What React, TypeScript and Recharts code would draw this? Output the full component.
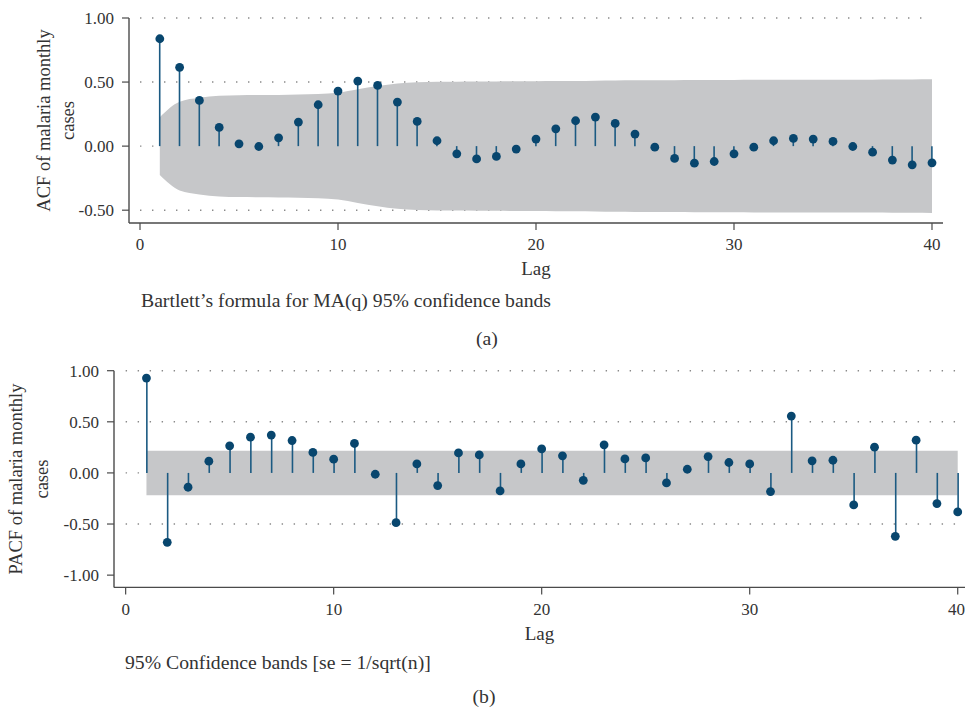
import {
  ComposedChart,
  Area,
  Bar,
  Scatter,
  XAxis,
  YAxis,
  ReferenceLine,
} from 'recharts';

const lags = [1, 2, 3, 4, 5, 6, 7, 8, 9, 10, 11, 12, 13, 14, 15, 16, 17, 18, 19, 20,
  21, 22, 23, 24, 25, 26, 27, 28, 29, 30, 31, 32, 33, 34, 35, 36, 37, 38, 39, 40];

const acfValues = [0.838, 0.615, 0.357, 0.146, 0.018, -0.003, 0.065, 0.188, 0.323, 0.43,
  0.508, 0.474, 0.344, 0.193, 0.042, -0.06, -0.1, -0.08, -0.023, 0.055,
  0.135, 0.198, 0.227, 0.177, 0.094, -0.008, -0.096, -0.133, -0.12, -0.06,
  -0.008, 0.042, 0.06, 0.055, 0.037, -0.003, -0.047, -0.109, -0.146, -0.13];

// Bartlett band half-width per lag
const acfBand = [0.226, 0.346, 0.377, 0.393, 0.398, 0.399, 0.4, 0.402, 0.406, 0.416,
  0.443, 0.469, 0.489, 0.498, 0.502, 0.503, 0.504, 0.505, 0.506, 0.507,
  0.508, 0.509, 0.511, 0.513, 0.514, 0.515, 0.515, 0.516, 0.517, 0.517,
  0.518, 0.518, 0.518, 0.519, 0.519, 0.519, 0.519, 0.52, 0.52, 0.521];

const pacfValues = [0.928, -0.679, -0.14, 0.115, 0.265, 0.35, 0.37, 0.317, 0.2, 0.134,
  0.288, -0.013, -0.487, 0.088, -0.124, 0.196, 0.176, -0.176, 0.088, 0.235,
  0.167, -0.072, 0.275, 0.137, 0.147, -0.098, 0.036, 0.16, 0.102, 0.088,
  -0.183, 0.556, 0.118, 0.124, -0.313, 0.252, -0.62, 0.32, -0.3, -0.382];

const pacfBand = 0.218;

const xTicks = [0, 10, 20, 30, 40];
const acfTicks = [-0.5, 0, 0.5, 1];
const pacfTicks = [-1, -0.5, 0, 0.5, 1];
const pacfGrid = [-0.5, 0, 0.5, 1];

const acfData = lags.map((lag, i) => ({ lag, value: acfValues[i], band: [-acfBand[i], acfBand[i]] }));
const pacfData = lags.map((lag, i) => ({ lag, value: pacfValues[i], band: [-pacfBand, pacfBand] }));

const SERIF = '"Liberation Serif", "Times New Roman", serif';
const TEXT = '#333';
const AXIS = '#4a4a4a';
const DOT = '#08466e';
const STEM = '#1b5a82';
const BAND = '#c6c7c9';

const tickStyle = { fontSize: 17, fill: TEXT, fontFamily: SERIF };

const renderDot = (p: any) => <circle cx={p.cx} cy={p.cy} r={4.4} fill={DOT} />;

const lagLabel = (dy: number) => (props: any) => {
  const vb = props.viewBox;
  return (
    <text x={vb.x + vb.width / 2} y={vb.y + dy} textAnchor="middle" fontFamily={SERIF} fontSize={19} fill={TEXT}>
      Lag
    </text>
  );
};

function CorrPanel({
  data,
  title,
  yDomain,
  yTicks,
  gridValues,
  xDomain,
  yAxisWidth,
  margin,
  height,
  titleX,
  lagDy,
  tickMargin,
}: any) {
  const [t1, t2] = titleX;
  return (
    <ComposedChart width={965} height={height} data={data} margin={margin}>
      <XAxis
        type="number"
        dataKey="lag"
        domain={xDomain}
        ticks={xTicks}
        tick={tickStyle}
        tickSize={7}
        tickMargin={tickMargin}
        height={50}
        axisLine={{ stroke: AXIS, strokeWidth: 1.4 }}
        tickLine={{ stroke: AXIS, strokeWidth: 1.2 }}
        label={{ content: lagLabel(lagDy) }}
      />
      <YAxis
        type="number"
        domain={yDomain}
        ticks={yTicks}
        tick={tickStyle}
        tickSize={7}
        tickMargin={8}
        width={yAxisWidth}
        tickFormatter={(v: number) => v.toFixed(2)}
        axisLine={{ stroke: AXIS, strokeWidth: 1.4 }}
        tickLine={{ stroke: AXIS, strokeWidth: 1.2 }}
        label={{
          content: (p: any) => {
            const vb = p.viewBox;
            const cy = vb.y + vb.height / 2;
            return (
              <g fontFamily={SERIF} fontSize={18.5} fill={TEXT}>
                <text x={t1} y={cy} textAnchor="middle" transform={`rotate(-90, ${t1}, ${cy})`}>
                  {title}
                </text>
                <text x={t2} y={cy} textAnchor="middle" transform={`rotate(-90, ${t2}, ${cy})`}>
                  cases
                </text>
              </g>
            );
          },
        }}
      />
      {gridValues.map((v: number) => (
        <ReferenceLine
          key={v}
          segment={[{ x: 0, y: v }, { x: 40, y: v }]}
          stroke="#8a8a8a"
          strokeWidth={1.4}
          strokeDasharray="1.4 10.6"
          zIndex={-50}
        />
      ))}
      <Area
        type="monotone"
        dataKey="band"
        fill={BAND}
        fillOpacity={1}
        stroke="none"
        isAnimationActive={false}
      />
      <Bar dataKey="value" barSize={1.6} fill={STEM} isAnimationActive={false} />
      <Scatter dataKey="value" shape={renderDot} isAnimationActive={false} />
    </ComposedChart>
  );
}

export default function App() {
  return (
    <div
      style={{
        position: 'absolute',
        left: 0,
        top: 0,
        width: 965,
        height: 716,
        background: '#fff',
        overflow: 'hidden',
        fontFamily: SERIF,
      }}
    >
      <div style={{ position: 'absolute', left: 0, top: 0 }}>
        <CorrPanel
          data={acfData}
          title="ACF of malaria monthly"
          yDomain={[-0.6, 1]}
          yTicks={acfTicks}
          gridValues={acfTicks}
          xDomain={[-0.556, 40.556]}
          yAxisWidth={129}
          margin={{ top: 18, right: 22, bottom: 17, left: 0 }}
          height={290}
          titleX={[49.5, 74]}
          lagDy={52}
          tickMargin={8}
        />
      </div>
      <div style={{ position: 'absolute', left: 0, top: 350 }}>
        <CorrPanel
          data={pacfData}
          title="PACF of malaria monthly"
          yDomain={[-1.12, 1]}
          yTicks={pacfTicks}
          gridValues={pacfGrid}
          xDomain={[-0.56, 40.35]}
          yAxisWidth={114}
          margin={{ top: 20.7, right: 0, bottom: 12.6, left: 0 }}
          height={300}
          titleX={[22, 47.7]}
          lagDy={53}
          tickMargin={9}
        />
      </div>
      <svg
        width={965}
        height={716}
        style={{ position: 'absolute', left: 0, top: 0, pointerEvents: 'none' }}
        fontFamily={SERIF}
        fill={TEXT}
      >
        <text x={141} y={306.5} fontSize={19.7}>
          Bartlett’s formula for MA(q) 95% confidence bands
        </text>
        <text x={487} y={345} fontSize={19.7} textAnchor="middle">
          (a)
        </text>
        <text x={125} y={669} fontSize={19.7}>
          95% Confidence bands [se = 1/sqrt(n)]
        </text>
        <text x={484} y={703} fontSize={19.7} textAnchor="middle">
          (b)
        </text>
      </svg>
    </div>
  );
}
